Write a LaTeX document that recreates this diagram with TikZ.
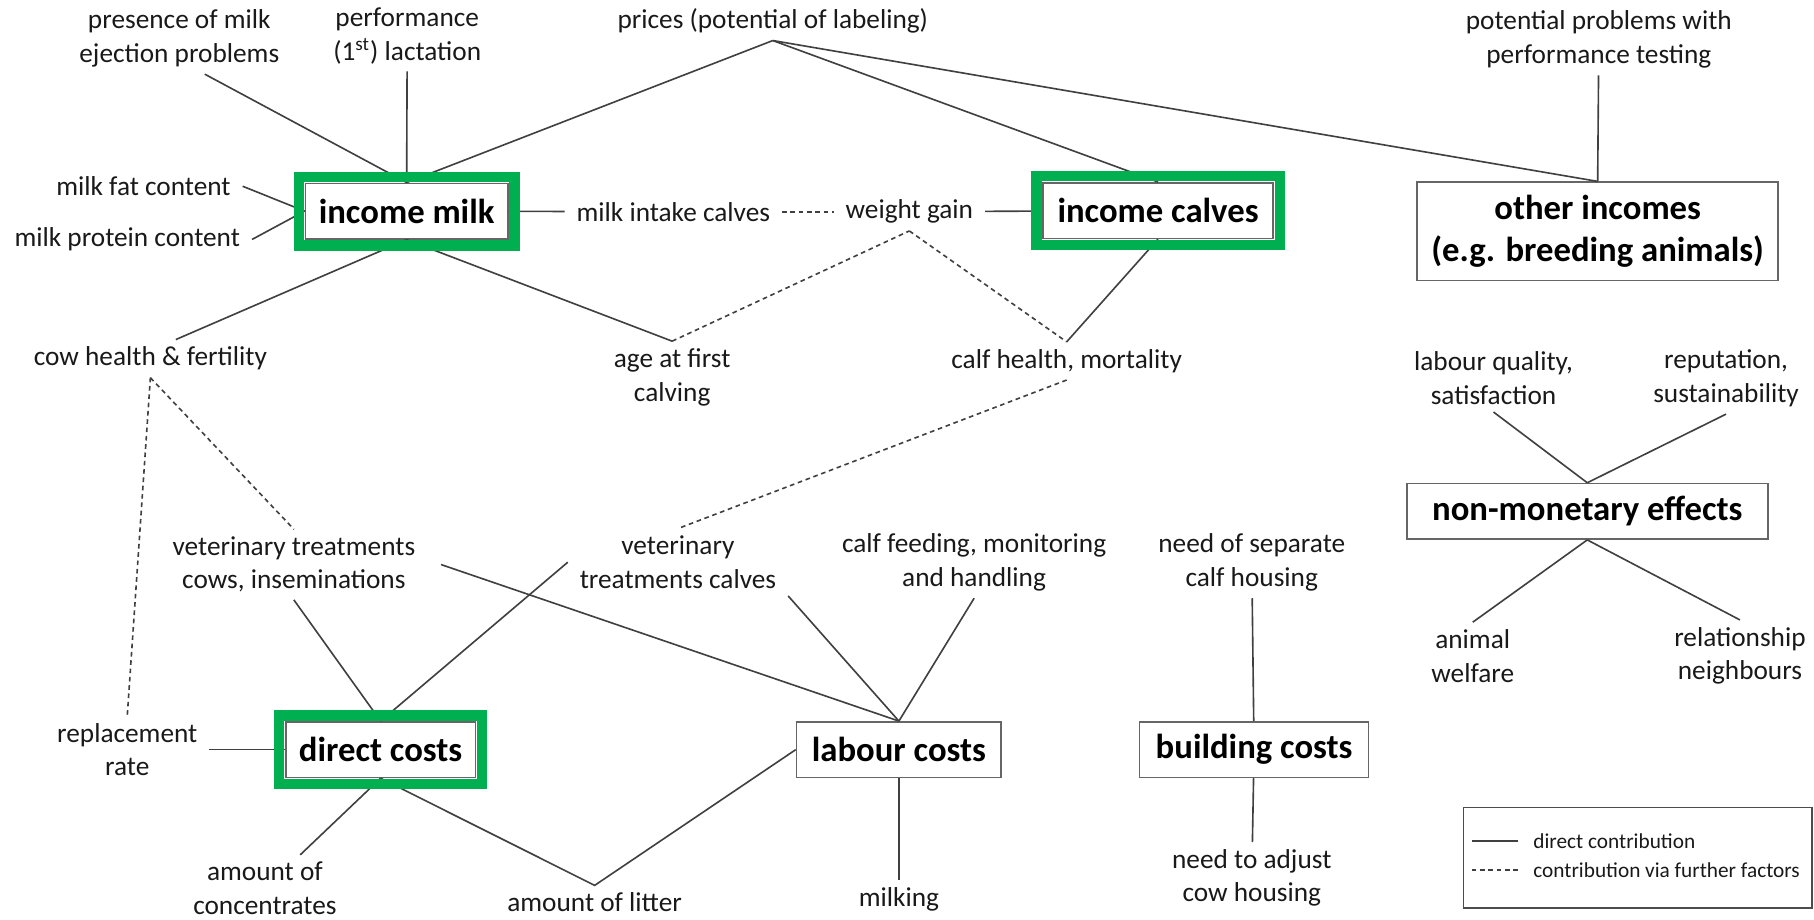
\documentclass[tikz,border=0pt]{standalone}
\usepackage{fontspec}
\setmainfont{Carlito}
\usepackage{tikz}
\usetikzlibrary{arrows,positioning,shapes}
\definecolor{mkgreen}{HTML}{00B050}

\begin{document}
\begin{tikzpicture}[x=0.5pt, y=-0.5pt]
        \tikzstyle{factor} = [align=center, inner xsep=5pt, inner ysep=3pt, text=black!90, font=\fontsize{11.8}{14.5}\selectfont]
        \tikzstyle{block} = [rectangle, draw=black!60, line width=0.7pt, fill=white, minimum height=24pt, inner sep=2pt, text centered, align=center, font=\fontsize{15}{18}\selectfont\bfseries]
        \tikzstyle{link} = [black!75, line width=0.7pt]
        \tikzstyle{via} = [link, dash pattern=on 2pt off 1.6pt]
        \tikzstyle{greenframe} = [draw=mkgreen, line width=4.5pt]
        \tikzstyle{legtext} = [anchor=west, inner sep=1pt, text=black!90, font=\fontsize{9.2}{11}\selectfont]
        \useasboundingbox (0,0) rectangle (1568,795);
        % incomes
        \node (pres) [factor] at (155,33) {presence of milk\\ejection problems};
        \node (perf) [factor] at (352,31) {performance\\(1\textsuperscript{st}) lactation};
        \node (prices) [factor] at (668,18) {prices (potential of labeling)};
        \node (pp) [factor] at (1382,34) {potential problems with\\performance testing};
        \node (im) [block, minimum width=87.5pt] at (351.5,182.5) {income milk};
        \node (fat) [factor] at (124,161) {milk fat content};
        \node (prot) [factor] at (110,207) {milk protein content};
        \node (mic) [factor] at (582,183) {milk intake calves};
        \node (wg) [factor] at (786,183) {weight gain};
        \node (ic) [block, minimum width=99.5pt] at (1001,182) {income calves};
        \node (oi) [block, minimum width=156pt, minimum height=42.5pt] at (1381,200) {other incomes\\(e.g. breeding animals)};
        \node (cow) [factor] at (130,310) {cow health \& fertility};
        \node (age) [factor] at (581,326) {age at first\\calving};
        \node (chm) [factor] at (922,312) {calf health, mortality};
        % non-monetary
        \node (lq) [factor] at (1291,327) {labour quality,\\satisfaction};
        \node (rs) [factor] at (1492,327) {reputation,\\sustainability};
        \node (nme) [block, minimum width=156pt] at (1372,442) {non-monetary effects};
        \node (aw) [factor] at (1273,567) {animal\\welfare};
        \node (rn) [factor] at (1504,567) {relationship\\neighbours};
        % costs
        \node (vtcow) [factor] at (254,488) {veterinary treatments\\cows, inseminations};
        \node (vtc) [factor] at (586,486) {veterinary\\treatments calves};
        \node (cfm) [factor] at (842,486) {calf feeding, monitoring\\and handling};
        \node (ncs) [factor] at (1082,486) {need of separate\\calf housing};
        \node (rep) [factor] at (110,648) {replacement\\rate};
        \node (dc) [block, minimum width=82pt] at (329,648) {direct costs};
        \node (lc) [block, minimum width=88.5pt] at (777,648) {labour costs};
        \node (bc) [block, minimum width=99pt] at (1084,648) {building costs};
        \node (conc) [factor] at (229,768) {amount of\\concentrates};
        \node (litter) [factor] at (514,780) {amount of litter};
        \node (milking) [factor] at (777,777) {milking};
        \node (nac) [factor] at (1082,759) {need to adjust\\cow housing};
        % legend
        \node (legend) [rectangle, draw=black!70, line width=0.7pt, minimum width=150.5pt, minimum height=43.5pt] at (1415.5,741.5) {};
        \node (ldirect) [legtext] at (1323,727) {direct contribution};
        \node (lvia) [legtext] at (1323,752) {contribution via further factors};
        \coordinate (ls) at (1272,727);
        \coordinate (le) at (1312,727);
        \coordinate (lv) at (1272,752);
        \coordinate (lw) at (1312,752);
        \draw[link] (ls) -- (le);
        \draw[via] (lv) -- (lw);

        \draw[link] ([xshift=11pt]pres.south) -- (im.north);
        \draw[link] (perf) -- (im.north);
        \draw[link] (prices.south) -- (im.north);
        \draw[link] (prices.south) -- (ic.north);
        \draw[link] (prices.south) -- (oi.north);
        \draw[link] (pp) -- (oi.north);
        \draw[link] (fat.east) -- (im.west);
        \draw[link] (prot.east) -- (im.west);
        \draw[link] (im) -- (mic);
        \draw[via] (mic) -- (wg);
        \draw[link] (wg) -- (ic);
        \draw[link] (im.south) -- ([xshift=11pt]cow.north);
        \draw[link] (im.south) -- (age.north);
        \draw[via] (age.north) -- (wg.south);
        \draw[via] (wg.south) -- (chm.north);
        \draw[link] (ic.south) -- (chm.north);
        \draw[via] (chm.south) -- (vtc.north);
        \draw[via] (cow.south) -- (vtcow.north);
        \draw[via] (cow.south) -- (rep.north);
        \draw[link] (vtcow.south) -- (dc.north);
        \draw[link] ([xshift=6pt]vtcow.east) -- (lc.north);
        \draw[link] (vtc.west) -- (dc.north);
        \draw[link] (vtc.south east) -- (lc.north);
        \draw[link] (cfm.south) -- (lc.north);
        \draw[link] (rep) -- (dc);
        \draw[link] (dc.south) -- (conc);
        \draw[link] (dc.south) -- (litter.north) -- (lc.west);
        \draw[link] (lc) -- (milking);
        \draw[link] (ncs) -- (bc);
        \draw[link] (bc) -- (nac);
        \draw[link] (lq.south) -- (nme.north);
        \draw[link] (rs.south) -- (nme.north);
        \draw[link] (nme.south) -- (aw.north);
        \draw[link] (nme.south) -- (rn.north);

        \foreach \n in {im, ic, dc}
            \draw[greenframe] ([xshift=-2.5pt,yshift=2.5pt]\n.north west) rectangle ([xshift=2.5pt,yshift=-2.5pt]\n.south east);
\end{tikzpicture}
\end{document}
